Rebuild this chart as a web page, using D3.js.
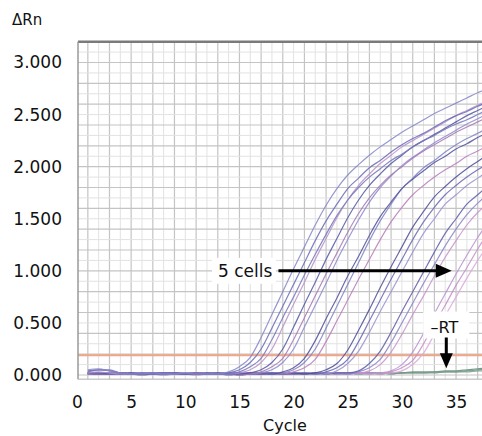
<!DOCTYPE html>
<html><head><meta charset="utf-8">
<script src="https://cdn.jsdelivr.net/npm/d3@7"></script>
<style>
body{margin:0;background:#fff}
svg{display:block}
text{font-family:"DejaVu Sans",sans-serif;fill:#111}
</style>
</head><body>
<svg id="chart" width="482" height="436"></svg>
<script>
// ---------- data ----------
const cycles = [1,2,3,4,5,6,7,8,9,10,11,12,13,14,15,16,17,18,19,20,21,22,23,24,25,26,27,28,29,30,31,32,33,34,35,36,37,38];
const xTicks = [0,5,10,15,20,25,30,35];
const yTicks = [0,0.5,1,1.5,2,2.5,3];
const yTickLabels = ["0.000","0.500","1.000","1.500","2.000","2.500","3.000"];
const thresholdValue = 0.19;

const curveA1 = [0.05,0.06,0.04,0.02,0.01,0.01,0.02,0.01,0.01,0.02, 0.01,0.01,0.01,0.03,0.08,0.17,0.36,0.58,0.80,1.02, 1.23,1.44,1.63,1.79,1.92,2.02,2.11,2.19,2.26,2.33, 2.39,2.45,2.51,2.56,2.61,2.66,2.71,2.75];
const curveA2 = [0.04,0.05,0.05,0.02,0.01,0.02,0.01,0.01,0.02,0.01, 0.01,0.01,0.01,0.02,0.05,0.12,0.25,0.45,0.66,0.87, 1.08,1.29,1.48,1.64,1.79,1.89,1.99,2.06,2.14,2.21, 2.27,2.32,2.38,2.44,2.49,2.53,2.58,2.62];
const curveA3 = [0.03,0.05,0.04,0.02,0.01,0.01,0.01,0.02,0.01,0.01, 0.01,0.02,0.01,0.01,0.03,0.08,0.16,0.34,0.55,0.75, 0.96,1.16,1.35,1.53,1.68,1.80,1.90,1.98,2.06,2.12, 2.19,2.25,2.30,2.36,2.41,2.45,2.50,2.55];
const curveA4 = [0.02,0.03,0.02,0.01,0.01,0.02,0.01,0.01,0.01,0.02, 0.01,0.01,0.01,0.01,0.02,0.05,0.12,0.25,0.46,0.68, 0.89,1.11,1.31,1.51,1.68,1.82,1.93,2.03,2.11,2.19, 2.25,2.31,2.37,2.43,2.49,2.54,2.59,2.64];
const curveB1 = [0.02,0.02,0.01,0.01,0.02,0.01,0.01,0.01,0.02,0.01, 0.01,0.01,0.02,0.01,0.01,0.02,0.05,0.12,0.25,0.46, 0.68,0.89,1.11,1.31,1.51,1.68,1.82,1.93,2.03,2.11, 2.19,2.25,2.31,2.37,2.43,2.49,2.54,2.59];
const curveB2 = [0.02,0.01,0.01,0.02,0.01,0.01,0.01,0.02,0.01,0.01, 0.02,0.01,0.01,0.01,0.00,0.01,0.03,0.08,0.16,0.34, 0.55,0.76,0.97,1.17,1.37,1.55,1.70,1.82,1.92,2.00, 2.08,2.15,2.21,2.27,2.33,2.38,2.43,2.48];
const curveB3 = [0.01,0.02,0.01,0.01,0.01,0.02,0.01,0.01,0.01,0.02, 0.01,0.01,0.01,0.01,0.01,0.01,0.02,0.05,0.12,0.25, 0.46,0.67,0.88,1.10,1.30,1.49,1.66,1.80,1.91,2.01, 2.09,2.16,2.23,2.29,2.35,2.41,2.46,2.51];
const curveC1 = [0.02,0.01,0.01,0.02,0.01,0.00,0.01,0.02,0.01,0.01, 0.02,0.01,0.01,0.00,0.01,0.02,0.01,0.01,0.03,0.07, 0.16,0.33,0.54,0.74,0.95,1.14,1.34,1.52,1.66,1.79, 1.88,1.96,2.04,2.10,2.17,2.22,2.28,2.33];
const curveC2 = [0.01,0.01,0.02,0.01,0.01,0.02,0.01,0.00,0.01,0.02, 0.01,0.01,0.02,0.01,0.01,0.01,0.02,0.01,0.02,0.05, 0.12,0.25,0.45,0.66,0.87,1.08,1.29,1.48,1.64,1.79, 1.89,1.99,2.06,2.14,2.21,2.27,2.32,2.38];
const curveC3 = [0.01,0.02,0.01,0.01,0.02,0.01,0.01,0.01,0.02,0.01, 0.00,0.01,0.02,0.01,0.01,0.02,0.01,0.01,0.01,0.03, 0.07,0.15,0.32,0.52,0.72,0.92,1.11,1.30,1.47,1.61, 1.73,1.82,1.90,1.97,2.03,2.10,2.15,2.21];
const curveD1 = [0.02,0.01,0.01,0.01,0.02,0.01,0.01,0.02,0.01,0.01, 0.01,0.02,0.01,0.01,0.00,0.01,0.02,0.01,0.01,0.02, 0.01,0.02,0.05,0.11,0.24,0.43,0.63,0.84,1.04,1.23, 1.42,1.57,1.71,1.81,1.90,1.98,2.05,2.12];
const curveD2 = [0.01,0.01,0.02,0.01,0.01,0.01,0.02,0.01,0.01,0.02, 0.01,0.01,0.01,0.02,0.01,0.01,0.01,0.02,0.01,0.01, 0.02,0.01,0.03,0.07,0.15,0.32,0.52,0.72,0.92,1.11, 1.30,1.47,1.61,1.73,1.82,1.90,1.97,2.03];
const curveD3 = [0.02,0.01,0.01,0.02,0.01,0.01,0.01,0.01,0.02,0.01, 0.01,0.01,0.02,0.01,0.01,0.01,0.02,0.01,0.01,0.01, 0.02,0.01,0.01,0.04,0.11,0.23,0.41,0.61,0.80,0.99, 1.18,1.36,1.50,1.64,1.73,1.82,1.89,1.96];
const curveE1 = [0.01,0.01,0.01,0.02,0.01,0.01,0.02,0.01,0.01,0.01, 0.02,0.01,0.01,0.01,0.02,0.01,0.01,0.02,0.01,0.01, 0.01,0.02,0.01,0.02,0.02,0.04,0.11,0.23,0.41,0.61, 0.80,0.99,1.18,1.36,1.50,1.64,1.73,1.82];
const curveE2 = [0.02,0.01,0.02,0.01,0.01,0.01,0.01,0.02,0.01,0.01, 0.01,0.02,0.01,0.01,0.01,0.01,0.02,0.01,0.01,0.02, 0.01,0.01,0.02,0.01,0.01,0.03,0.07,0.15,0.31,0.50, 0.69,0.88,1.06,1.24,1.40,1.54,1.65,1.74];
const curveE3 = [0.01,0.02,0.01,0.01,0.01,0.02,0.01,0.01,0.02,0.01, 0.01,0.01,0.01,0.02,0.01,0.01,0.01,0.01,0.02,0.01, 0.01,0.02,0.01,0.01,0.02,0.02,0.04,0.10,0.22,0.39, 0.58,0.76,0.95,1.13,1.29,1.44,1.56,1.65];
const curveF1 = [0.01,0.01,0.02,0.01,0.01,0.01,0.02,0.01,0.01,0.01, 0.02,0.01,0.01,0.02,0.01,0.01,0.01,0.02,0.01,0.01, 0.02,0.01,0.01,0.02,0.01,0.02,0.01,0.02,0.04,0.10, 0.22,0.40,0.59,0.78,0.97,1.15,1.32,1.47];
const curveF2 = [0.02,0.01,0.01,0.01,0.02,0.01,0.01,0.02,0.01,0.01, 0.01,0.01,0.02,0.01,0.01,0.02,0.01,0.01,0.01,0.02, 0.01,0.01,0.02,0.01,0.01,0.01,0.02,0.01,0.03,0.07, 0.14,0.30,0.49,0.67,0.86,1.03,1.21,1.37];
const curveF3 = [0.01,0.02,0.01,0.01,0.01,0.01,0.02,0.01,0.01,0.02, 0.01,0.01,0.01,0.01,0.02,0.01,0.01,0.01,0.02,0.01, 0.01,0.02,0.01,0.01,0.01,0.02,0.01,0.01,0.02,0.04, 0.10,0.21,0.39,0.57,0.75,0.93,1.10,1.26];
const curveRT1 = [0.02,0.02,0.01,0.02,0.01,0.02,0.02,0.01,0.02,0.02, 0.01,0.02,0.02,0.01,0.02,0.01,0.02,0.02,0.01,0.02, 0.02,0.01,0.02,0.02,0.01,0.02,0.02,0.02,0.01,0.02, 0.02,0.02,0.02,0.03,0.03,0.04,0.05,0.06];
const curveRT2 = [0.01,0.02,0.02,0.01,0.02,0.01,0.01,0.02,0.02,0.01, 0.02,0.01,0.01,0.02,0.01,0.02,0.01,0.01,0.02,0.01, 0.01,0.02,0.01,0.02,0.02,0.01,0.02,0.01,0.02,0.02, 0.03,0.03,0.03,0.04,0.04,0.05,0.06,0.07];
const curveRT3 = [0.01,0.01,0.01,0.02,0.01,0.01,0.02,0.01,0.01,0.01, 0.02,0.01,0.01,0.01,0.02,0.01,0.01,0.02,0.01,0.01, 0.02,0.01,0.01,0.01,0.02,0.01,0.01,0.02,0.01,0.02, 0.02,0.02,0.03,0.03,0.03,0.03,0.04,0.04];

const series = [
  {values: curveRT1, color: "#6f9484"},
  {values: curveRT2, color: "#5f8a78"},
  {values: curveRT3, color: "#7a9a8c"},
  {values: curveF3, color: "#d8a8d8"},
  {values: curveF2, color: "#c48cc8"},
  {values: curveF1, color: "#b890d0"},
  {values: curveE3, color: "#c890c8"},
  {values: curveE2, color: "#8a84c8"},
  {values: curveE1, color: "#5c5ca8"},
  {values: curveD3, color: "#9a90d0"},
  {values: curveD2, color: "#6666b4"},
  {values: curveD1, color: "#4c4c98"},
  {values: curveC3, color: "#b87cb8"},
  {values: curveC2, color: "#8080c4"},
  {values: curveC1, color: "#50509c"},
  {values: curveB3, color: "#8c88cc"},
  {values: curveB2, color: "#a478b4"},
  {values: curveB1, color: "#5656a4"},
  {values: curveA4, color: "#b890c8"},
  {values: curveA3, color: "#7474bc"},
  {values: curveA2, color: "#6a6ab8"},
  {values: curveA1, color: "#8486c8"}
];

// annotations (in data units)
const label5 = {text: "5 cells", fromCycle: 18.6, toCycle: 34.6, value: 1.0};
const labelRT = {text: "\u2013RT", cycle: 34.1, fromValue: 0.36, toValue: 0.065};

// ---------- chart ----------
const svg = d3.select("#chart");
const x = d3.scaleLinear().domain([0, 40]).range([77, 77 + 40 * 10.83]);
const y = d3.scaleLinear().domain([0, 3]).range([375, 62.5]);
const plotTop = y(3.2), plotBottom = y(-0.04), plotLeft = x(0) + 1, plotRight = x(40);

svg.append("defs").append("clipPath").attr("id", "clip")
  .append("rect").attr("x", plotLeft).attr("y", plotTop)
  .attr("width", plotRight - plotLeft).attr("height", plotBottom - plotTop);

const plot = svg.append("g").attr("clip-path", "url(#clip)");
plot.append("rect").attr("x", plotLeft).attr("y", plotTop)
  .attr("width", plotRight - plotLeft).attr("height", plotBottom - plotTop).attr("fill", "#fff");

// grid
const vGrid = d3.range(1, 40);
plot.selectAll(".vg").data(vGrid).join("line")
  .attr("x1", d => x(d)).attr("x2", d => x(d))
  .attr("y1", plotTop).attr("y2", plotBottom)
  .attr("stroke", d => d % 2 ? "#c4c4c4" : "#e2e2e2").attr("stroke-width", d => d % 2 ? 1.2 : 1);
const hGrid = d3.range(0, 33).map(i => i / 10);
plot.selectAll(".hg").data(hGrid).join("line")
  .attr("x1", plotLeft).attr("x2", plotRight)
  .attr("y1", d => y(d)).attr("y2", d => y(d))
  .attr("stroke", (d, i) => i % 2 ? "#e2e2e2" : "#c4c4c4").attr("stroke-width", (d, i) => i % 2 ? 1 : 1.2);

// threshold
plot.append("line").attr("x1", plotLeft).attr("x2", plotRight)
  .attr("y1", y(thresholdValue)).attr("y2", y(thresholdValue))
  .attr("stroke", "#f0a586").attr("stroke-width", 2);

// curves
const line = d3.line().x((d, i) => x(cycles[i])).y(d => y(d)).curve(d3.curveMonotoneX);
plot.selectAll(".curve").data(series).join("path")
  .attr("d", d => line(d.values))
  .attr("fill", "none").attr("stroke", d => d.color)
  .attr("stroke-width", 1.2).attr("stroke-opacity", 0.85);

// frame
svg.append("line").attr("x1", plotLeft).attr("x2", plotRight).attr("y1", plotTop).attr("y2", plotTop)
  .attr("stroke", "#7a7a7a").attr("stroke-width", 2.5);
svg.append("line").attr("x1", plotLeft).attr("x2", plotLeft).attr("y1", plotTop).attr("y2", plotBottom)
  .attr("stroke", "#9a9a9a").attr("stroke-width", 1.5);
svg.append("line").attr("x1", plotLeft).attr("x2", plotRight).attr("y1", plotBottom).attr("y2", plotBottom)
  .attr("stroke", "#b0b0b0").attr("stroke-width", 1);

// axes
const yAxis = svg.append("g").attr("transform", `translate(${plotLeft},0)`)
  .call(d3.axisLeft(y).tickValues(yTicks).tickFormat((d, i) => yTickLabels[i]).tickSize(0).tickPadding(16));
yAxis.select(".domain").remove();
yAxis.selectAll("text").attr("font-size", 17).attr("font-family", "DejaVu Sans").attr("fill", "#111");

const xAxis = svg.append("g").attr("transform", `translate(0,${plotBottom})`)
  .call(d3.axisBottom(x).tickValues(xTicks).tickFormat(d3.format("d")).tickSize(0).tickPadding(17));
xAxis.select(".domain").remove();
xAxis.selectAll("text").attr("font-size", 17).attr("font-family", "DejaVu Sans").attr("fill", "#111");

svg.append("text").attr("x", x(19.2)).attr("y", 431).attr("text-anchor", "middle")
  .attr("font-size", 16).text("Cycle");
svg.append("text").attr("x", 12).attr("y", 25).attr("font-size", 15).text("\u0394Rn");

// 5 cells annotation
const ay = y(label5.value);
svg.append("rect").attr("x", 212).attr("y", ay - 13).attr("width", 64).attr("height", 26).attr("fill", "#fff");
svg.append("text").attr("x", 218).attr("y", ay + 6).attr("font-size", 17).text(label5.text);
svg.append("line").attr("x1", x(label5.fromCycle)).attr("x2", x(label5.toCycle) - 12)
  .attr("y1", ay).attr("y2", ay).attr("stroke", "#000").attr("stroke-width", 3);
svg.append("path")
  .attr("d", `M${x(label5.toCycle)},${ay} L${x(label5.toCycle) - 16},${ay - 7} L${x(label5.toCycle) - 16},${ay + 7} Z`)
  .attr("fill", "#000");

// -RT annotation
const rx = x(labelRT.cycle);
svg.append("rect").attr("x", rx - 23).attr("y", y(labelRT.fromValue) - 26).attr("width", 46).attr("height", 27).attr("fill", "#fff");
svg.append("text").attr("x", rx - 2).attr("y", y(labelRT.fromValue) - 5).attr("text-anchor", "middle")
  .attr("font-size", 16).text(labelRT.text);
svg.append("line").attr("x1", rx).attr("x2", rx).attr("y1", y(labelRT.fromValue)).attr("y2", y(labelRT.toValue) - 12)
  .attr("stroke", "#000").attr("stroke-width", 3);
svg.append("path")
  .attr("d", `M${rx},${y(labelRT.toValue)} L${rx - 6.5},${y(labelRT.toValue) - 15} L${rx + 6.5},${y(labelRT.toValue) - 15} Z`)
  .attr("fill", "#000");
</script>
</body></html>
